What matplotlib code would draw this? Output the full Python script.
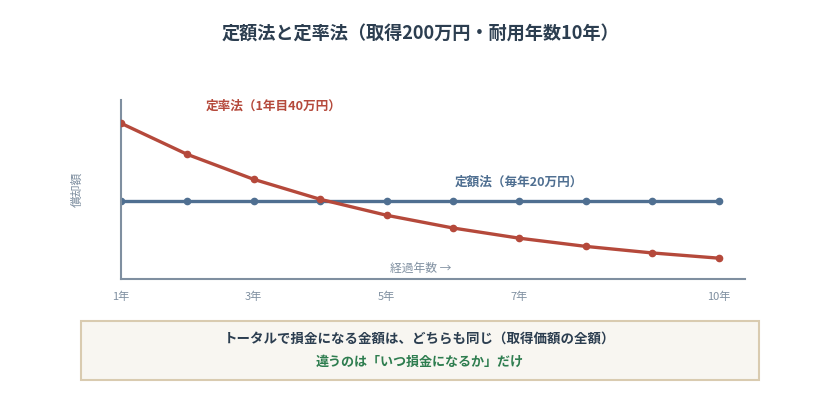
import matplotlib.pyplot as plt
from matplotlib.patches import FancyBboxPatch

plt.rcParams['font.family'] = ['Noto Sans CJK JP', 'DejaVu Sans']

# --- Data ---
years = list(range(1, 11))
teiritsu = [40.0, 32.0, 25.6, 20.48, 16.38, 13.11, 10.49, 8.39, 6.71, 5.37]
teigaku = [20] * 10
tick_years = [1, 3, 5, 7, 10]
tick_labels = ['1年', '3年', '5年', '7年', '10年']

red = '#b5493b'
blue = '#4f6f91'
gray = '#7f8fa0'

fig = plt.figure(figsize=(8.4, 4.11), dpi=100)
ax = fig.add_axes([0.144, 0.321, 0.743, 0.436])

ax.plot(years, teigaku, color=blue, lw=2.4, marker='o', ms=4.5, zorder=2)
ax.plot(years, teiritsu, color=red, lw=2.4, marker='o', ms=4.5, zorder=3)

ax.set_xlim(1, 10.4)
ax.set_ylim(0, 46)
ax.set_xticks(tick_years)
ax.set_xticklabels(tick_labels, color=gray, fontsize=8)
ax.set_yticks([])
ax.tick_params(axis='x', length=0, pad=9)
for s in ['top', 'right']:
    ax.spines[s].set_visible(False)
for s in ['left', 'bottom']:
    ax.spines[s].set_color(gray)
    ax.spines[s].set_linewidth(1.5)

ax.set_ylabel('償却額', color=gray, fontsize=8.5, labelpad=27)

ax.text(2.27, 44.5, '定率法（1年目40万円）', color=red, fontsize=9.1, fontweight='bold',
        ha='left', va='center')
ax.text(6.03, 25.0, '定額法（毎年20万円）', color=blue, fontsize=9.1, fontweight='bold',
        ha='left', va='center')
ax.text(5.05, 2.8, '経過年数 →', color=gray, fontsize=8.5, ha='left', va='center')

fig.text(0.5, 0.92, '定額法と定率法（取得200万円・耐用年数10年）', ha='center', va='center',
         fontsize=13.1, fontweight='bold', color='#2c3e50')

box = FancyBboxPatch((0.097, 0.075), 0.806, 0.143, boxstyle='square,pad=0',
                     transform=fig.transFigure, facecolor='#f8f6f1', edgecolor='#d9cbb0',
                     lw=1.5)
fig.patches.append(box)
fig.text(0.5, 0.175, 'トータルで損金になる金額は、どちらも同じ（取得価額の全額）', ha='center',
         va='center', fontsize=9.7, fontweight='bold', color='#2c3e50')
fig.text(0.5, 0.119, '違うのは「いつ損金になるか」だけ', ha='center', va='center',
         fontsize=9.4, fontweight='bold', color='#2e7d4f')

fig.savefig('out.png', dpi=100)
